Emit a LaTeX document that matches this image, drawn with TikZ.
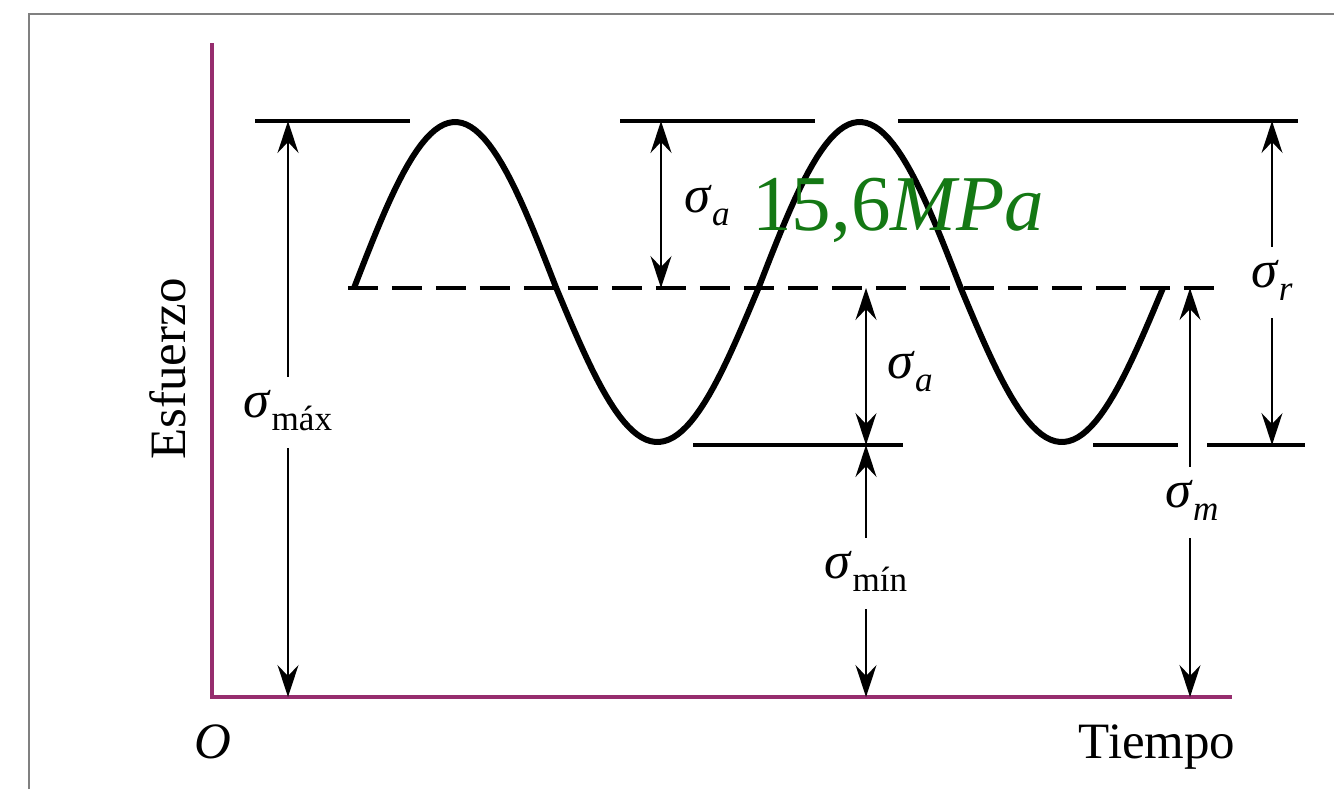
\documentclass[tikz,border=0pt]{standalone}
\usepackage{fontspec}
\setmainfont{Liberation Serif}
\usetikzlibrary{arrows.meta}
\definecolor{ejes}{RGB}{150,45,110}
\definecolor{verde}{RGB}{20,120,20}
\newcommand{\sgm}[1]{\textit{σ}\raisebox{-7.5pt}{\fontsize{20}{20}\selectfont #1}}

\begin{document}
\begin{tikzpicture}[x=0.02cm, y=-0.02cm, >={Stealth[length=0.64cm,width=0.42cm,inset=0.22cm]},
    eje/.style={ejes, line width=2.5pt},
    nivel/.style={line width=2.2pt},
    cota/.style={<->, line width=0.85pt},
    flecha/.style={->, line width=0.85pt},
    rotulo/.style={inner sep=0pt, font=\fontsize{30}{30}\selectfont},
    hueco/.style={rotulo, anchor=base, text height=0.8cm, text depth=0.62cm}]
\useasboundingbox (0,0) rectangle (1334,789);
\draw[gray, line width=0.8pt] (29,789) -- (29,14) -- (1334,14);

% niveles
\coordinate (top) at (0,121);
\coordinate (mid) at (0,288);
\coordinate (bot) at (0,445);
\coordinate (base) at (0,697);
\coordinate (O) at (212,697);
\coordinate (ytop) at (212,43);
\coordinate (xend) at (1232,697);
\draw[eje] (ytop) -- (O) -- (xend);

\draw[nivel] (255,121) -- (410,121);
\draw[nivel] (620,121) -- (815,121);
\draw[nivel] (898,121) -- (1298,121);
\draw[nivel] (693,445) -- (903,445);
\draw[nivel] (1093,445) -- (1178,445);
\draw[nivel] (1207,445) -- (1305,445);
\draw[line width=2.4pt, dash pattern=on 0.6cm off 0.28cm] (348,288) -- (1222,288);

% onda
\draw[line width=3.4pt, line join=round] plot[domain=0:720, samples=181]
    ({354+809*(\x/720)}, {288-(sin(\x)>0 ? 166 : 154)*sin(\x)});

% cotas
\coordinate (xmax) at (288,0);
\coordinate (xa1) at (661,0);
\coordinate (xa2) at (866,0);
\coordinate (xm) at (1190,0);
\coordinate (xr) at (1272,0);

\node[hueco] (smax) at (288,417) {\sgm{máx}};
\draw[flecha] (smax.north -| xmax) -- (xmax |- top);
\draw[flecha] (smax.south -| xmax) -- (xmax |- base);

\draw[cota] (xa1 |- top) -- (xa1 |- mid);
\node[rotulo, anchor=base west] (sa1) at (684,212) {\sgm{\textit{a}}};

\draw[cota] (xa2 |- mid) -- (xa2 |- bot);
\node[rotulo, anchor=base west] (sa2) at (887,378) {\sgm{\textit{a}}};

\node[hueco] (smin) at (866,578) {\sgm{mín}};
\draw[flecha] (smin.north -| xa2) -- (xa2 |- bot);
\draw[flecha] (smin.south -| xa2) -- (xa2 |- base);

\node[hueco] (sm) at (1192,507) {\sgm{\textit{m}}};
\draw[flecha] (sm.north -| xm) -- (xm |- mid);
\draw[flecha] (sm.south -| xm) -- (xm |- base);

\node[hueco] (sr) at (1272,287) {\sgm{\textit{r}}};
\draw[flecha] (sr.north -| xr) -- (xr |- top);
\draw[flecha] (sr.south -| xr) -- (xr |- bot);

\node[anchor=base west, inner sep=0pt, text=verde, font=\fontsize{45}{45}\selectfont] (valor) at (752,230) {15,6\textit{MPa}};

\node[rotulo, rotate=90, anchor=base, font=\fontsize{29}{29}\selectfont] (esf) at (185,369) {Esfuerzo};
\node[rotulo, anchor=base, font=\fontsize{29}{29}\selectfont\itshape] (orig) at (213,758) {O};
\node[rotulo, anchor=base, font=\fontsize{29}{29}\selectfont] (tiempo) at (1157,758) {Tiempo};
\end{tikzpicture}
\end{document}
